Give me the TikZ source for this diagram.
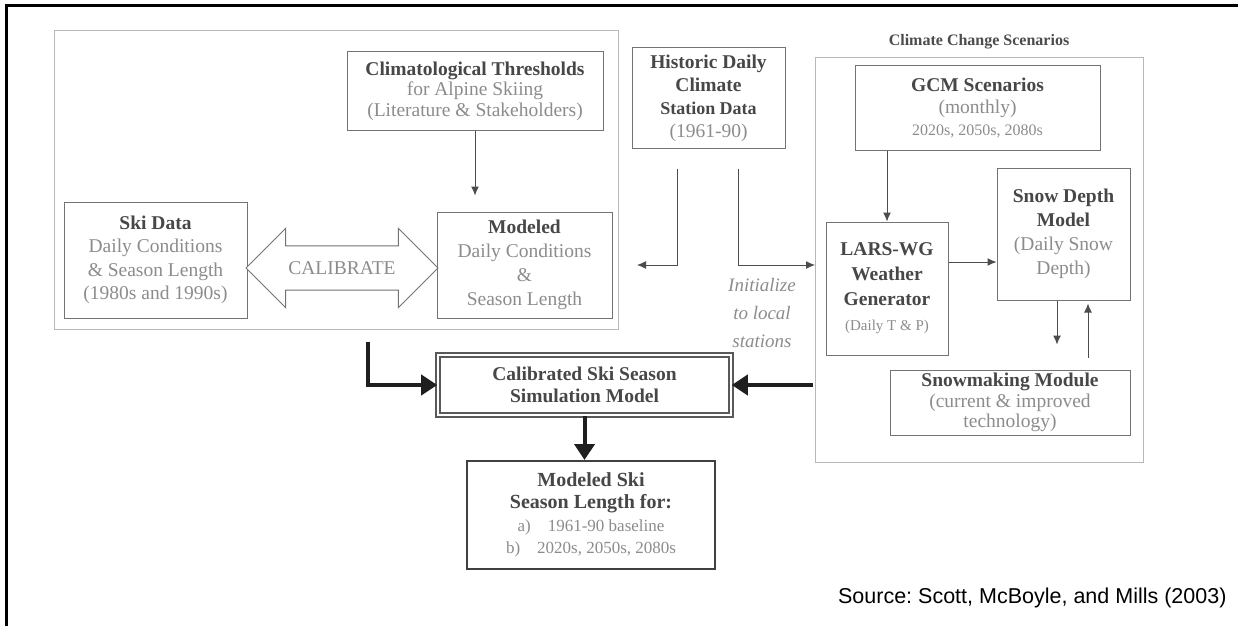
\documentclass[tikz,border=0pt]{standalone}
\usepackage{fontspec}
\setmainfont{Liberation Serif}
\newfontfamily\arialfont{Liberation Sans}
\usetikzlibrary{arrows.meta,shapes.arrows}
\tikzset{
    group-box/.style = {draw=black!28, line width=1pt, rectangle, inner sep=0pt},
    step-box/.style = {draw=black!55, line width=1pt, fill=white, rectangle, align=center, inner sep=2pt, text=black!45, font=\fontsize{19.5}{22}\selectfont},
    thin-arrow/.style = {draw=black!70, line width=1pt, -{Latex[length=9pt,width=8pt]}},
    thick-arrow/.style = {draw=black!88, line width=4pt, -{Triangle[length=16pt,width=20pt]}},
}
\newcommand{\hd}[1]{\textbf{\color{black!72}#1}}

\begin{document}
\begin{tikzpicture}[x=1pt,y=-1pt]
\useasboundingbox (0,0) rectangle (1238,626);
% frame
\draw[line width=3pt] (1238,6) -- (6,6) -- (6,626);

% groups
\node[group-box, minimum width=564pt, minimum height=298pt] (skiarea) at (336,180) {};
\node[group-box, minimum width=328pt, minimum height=404pt] (climate) at (979,260) {};
\node[font=\fontsize{16}{18}\selectfont\bfseries, text=black!70] (climate-title) at (979,42) {Climate Change Scenarios};

% boxes
\node[step-box, minimum width=256pt, minimum height=78pt, font=\fontsize{19.5}{20.5}\selectfont] (thresholds) at (475,91)
    {\hd{Climatological Thresholds}\\for Alpine Skiing\\(Literature \& Stakeholders)};
\node[step-box, minimum width=153pt, minimum height=100pt, font=\fontsize{19.5}{23}\selectfont] (historic) at (708.5,98)
    {\hd{Historic Daily}\\\hd{Climate}\\\hd{\fontsize{18}{23}\selectfont Station Data}\\(1961-90)};
\node[step-box, minimum width=183pt, minimum height=116pt, font=\fontsize{19.5}{23.5}\selectfont] (skidata) at (155.5,260)
    {\hd{Ski Data}\\Daily Conditions\\\& Season Length\\(1980s and 1990s)};
\node[step-box, minimum width=175pt, minimum height=106pt, font=\fontsize{19.5}{24}\selectfont] (modeled) at (524.5,265)
    {\hd{Modeled}\\Daily Conditions\\\&\\Season Length};
\node[double arrow, draw=black!55, line width=1pt, fill=white, text=black!45, font=\fontsize{19.5}{20}\selectfont,
    minimum height=192pt, minimum width=78pt, double arrow head extend=17.5pt, inner ysep=15pt] (calibrate) at (342,268) {CALIBRATE};

\node[step-box, minimum width=245pt, minimum height=85pt] (gcm) at (977.5,107.5)
    {\hd{GCM Scenarios}\\(monthly)\\{\fontsize{16}{18}\selectfont 2020s, 2050s, 2080s}};
\node[step-box, minimum width=122pt, minimum height=133pt, font=\fontsize{19.5}{25}\selectfont] (lars) at (887,288.5)
    {\hd{LARS-WG}\\\hd{Weather}\\\hd{Generator}\\{\fontsize{15}{25}\selectfont (Daily T \& P)}};
\node[step-box, minimum width=133pt, minimum height=132pt, font=\fontsize{19.5}{24}\selectfont] (snowdepth) at (1063.5,234)
    {\hd{Snow Depth}\\\hd{Model}\\(Daily Snow\\Depth)};
\node[step-box, minimum width=240pt, minimum height=65pt, font=\fontsize{19.5}{20.5}\selectfont] (snowmaking) at (1010,402.5)
    {\hd{Snowmaking Module}\\(current \& improved\\technology)};

\node[step-box, draw=black!65, double=white, double distance=2pt, line width=1.6pt, minimum width=293pt, minimum height=60pt] (calibrated) at (584.5,385)
    {\hd{Calibrated Ski Season}\\\hd{Simulation Model}};
\node[step-box, draw=black!75, line width=2pt, minimum width=248pt, minimum height=108pt, font=\fontsize{20}{22.5}\selectfont] (result) at (591,515)
    {\hd{Modeled Ski}\\\hd{Season Length for:}\\{\fontsize{17}{21}\selectfont a)\quad 1961-90 baseline}\\{\fontsize{17}{21}\selectfont b)\quad 2020s, 2050s, 2080s}};

\node[align=center, text=black!45, font=\fontsize{19}{28}\selectfont\itshape] (initialize) at (762,313) {Initialize\\to local\\stations};
\node[anchor=east, font=\arialfont\fontsize{21.5}{24}\selectfont\frenchspacing] (source) at (1230,598) {Source: Scott, McBoyle, and Mills (2003)};

% thin connectors
\coordinate (hist-l) at (637,265);
\coordinate (hist-r) at (815,265);
\coordinate (lars-out) at ([yshift=26.5pt]lars.east);
\draw[thin-arrow, shorten >=16pt] (thresholds.south) -- (thresholds.south |- modeled.north);
\draw[thin-arrow] ([xshift=-31.5pt,yshift=-20pt]historic.south) |- (hist-l);
\draw[thin-arrow] ([xshift=29.5pt,yshift=-20pt]historic.south) |- (hist-r);
\draw[thin-arrow] (lars.north |- gcm.south) -- (lars.north);
\draw[thin-arrow] (lars-out) -- (snowdepth.west |- lars-out);
\draw[thin-arrow, shorten >=25pt] ([xshift=-6.5pt]snowdepth.south) -- ([xshift=-6.5pt]snowdepth.south |- snowmaking.north);
\draw[thin-arrow, shorten <=12pt, shorten >=3pt] ([xshift=24.5pt]snowdepth.south |- snowmaking.north) -- ([xshift=24.5pt]snowdepth.south);

% thick connectors
\draw[thick-arrow] ([xshift=32pt,yshift=-12pt]skiarea.south) |- (calibrated.west);
\draw[thick-arrow] ([xshift=-2pt]climate.west |- calibrated.east) -- (calibrated.east);
\draw[thick-arrow] (calibrated.south) -- (calibrated.south |- result.north);
\end{tikzpicture}
\end{document}
